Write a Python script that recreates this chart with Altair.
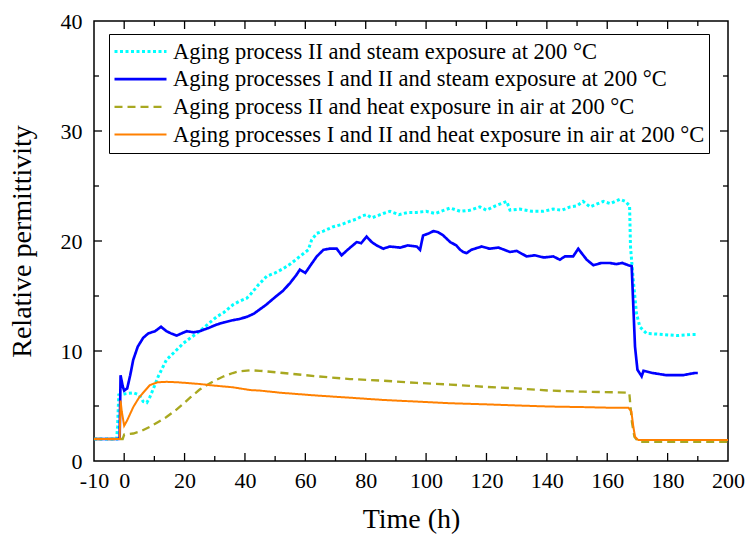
import altair as alt
import pandas as pd

names = [
    "Aging process II and steam exposure at 200 °C",
    "Aging processes I and II and steam exposure at 200 °C",
    "Aging process II and heat exposure in air at 200 °C",
    "Aging processes I and II and heat exposure in air at 200 °C",
]
colors = ["#00FFFF", "#0000FF", "#A8A820", "#FF8000"]
dashes = [[3, 2.5], [1, 0], [8, 5], [1, 0]]
widths = [3, 2, 2.3, 2.5]

steam_II = [
    (-10, 2.0), (-2.5, 2.0), (-2.2, 3.1), (-1.8, 6.0), (0, 6.1), (3, 6.2), (5, 6.0),
    (6.3, 5.4), (7.5, 5.3), (8.5, 5.8), (10, 6.8), (11.3, 7.7), (14, 9.2), (17, 10.0),
    (19.6, 10.7), (22, 11.2), (25, 11.8), (28, 12.5), (30.6, 13.1), (33, 13.5), (36, 14.2),
    (38, 14.5), (40.6, 14.8), (42, 15.2), (44.4, 16.0), (47.2, 16.8), (50, 17.1),
    (52.7, 17.5), (55, 17.9), (58.2, 18.6), (61, 19.2), (62.1, 20.1), (63.8, 20.7),
    (66, 20.9), (69.3, 21.3), (72, 21.5), (74.8, 21.8), (77, 22.0), (79, 22.3), (80.3, 22.4),
    (82, 22.1), (85.8, 22.5), (88, 22.7), (91, 22.4), (94, 22.6), (96.9, 22.6), (100, 22.7),
    (103, 22.5), (106, 22.8), (108, 23.0), (111.3, 22.7), (114.5, 22.8), (117.8, 23.1),
    (120, 22.8), (123, 23.2), (126.7, 23.6), (127.8, 22.8), (131, 22.9), (135, 22.7),
    (138.8, 22.7), (142, 22.9), (145, 22.8), (147.7, 23.1), (150, 23.2), (152, 23.6),
    (154.3, 23.1), (156, 23.3), (158.7, 23.6), (161, 23.4), (164.2, 23.8), (166, 23.6),
    (167.4, 23.2), (167.7, 19.5), (168.6, 16.5), (169.7, 13.4), (170.8, 12.2), (173, 11.6),
    (178.6, 11.5), (183, 11.4), (188, 11.5), (190, 11.5),
]

steam_I_II = [
    (-10, 2.0), (-1.8, 2.0), (-1.5, 2.2), (-1.2, 7.8), (-0.5, 6.8), (0, 6.4), (1, 6.6),
    (2, 7.8), (3, 9.2), (4.5, 10.4), (6.3, 11.2), (8, 11.6), (10.2, 11.8), (12.2, 12.2),
    (14, 11.8), (15.5, 11.6), (17.4, 11.4), (19, 11.6), (20.7, 11.8), (23, 11.7), (25, 11.8),
    (28, 12.1), (30.6, 12.4), (33, 12.6), (36, 12.8), (38, 12.9), (40.6, 13.1), (43, 13.4),
    (45, 13.8), (47, 14.2), (50, 14.9), (52.7, 15.5), (55, 16.2), (57, 16.9), (58.2, 17.4),
    (60, 17.1), (62, 17.9), (63.8, 18.6), (66, 19.2), (68, 19.3), (70.4, 19.3), (72, 18.7),
    (74, 19.2), (77, 19.9), (78.5, 19.8), (80.3, 20.4), (82, 19.9), (83.6, 19.6),
    (85.8, 19.3), (88, 19.5), (91.4, 19.4), (94, 19.6), (96.9, 19.5), (98, 19.2), (99, 20.5),
    (101, 20.7), (102.4, 20.9), (104, 20.8), (105.7, 20.5), (108, 19.9), (110, 19.6),
    (111.3, 19.2), (112.3, 19.0), (113.4, 18.9), (115, 19.2), (118.4, 19.5), (121, 19.3),
    (124, 19.4), (127.8, 19.0), (130, 19.1), (133.3, 18.6), (136, 18.7), (139, 18.5),
    (142.1, 18.6), (144.3, 18.3), (146, 18.6), (148.7, 18.6), (150.4, 19.3), (151.5, 18.9),
    (153.2, 18.3), (155.4, 17.8), (158, 18.0), (160.9, 18.0), (163, 17.9), (165, 18.0),
    (167, 17.8), (168.1, 17.7), (168.5, 15.0), (169.2, 10.4), (170, 8.3), (171.4, 7.7),
    (172, 8.2), (175, 8.0), (179.7, 7.8), (185, 7.8), (189, 8.0), (190, 8.0),
]

heat_II = [
    (-10, 2.0), (-0.5, 2.0), (0, 2.4), (3, 2.5), (5.5, 2.7), (8.5, 3.1), (11, 3.5),
    (14, 4.0), (17, 4.6), (19.6, 5.2), (22, 5.8), (25, 6.5), (28, 7.0), (30.7, 7.4),
    (33, 7.7), (36, 8.0), (38, 8.15), (41.7, 8.25), (45, 8.2), (52.7, 8.0), (63.8, 7.7),
    (74.8, 7.45), (85.8, 7.3), (96.9, 7.1), (108, 6.95), (119, 6.75), (130, 6.6),
    (141, 6.4), (152, 6.3), (162, 6.25), (167.3, 6.2), (168.2, 3.5), (169, 2.2),
    (170.3, 1.75), (180, 1.75), (190, 1.75), (200, 1.75),
]

heat_I_II = [
    (-10, 2.0), (-1.5, 2.0), (-1.2, 5.5), (-0.8, 4.5), (0, 3.2), (1, 3.7), (3, 4.9),
    (5, 5.8), (8.5, 6.9), (11, 7.15), (14, 7.2), (18, 7.15), (25, 7.0), (30, 6.85),
    (36, 6.7), (41.7, 6.45), (45, 6.4), (52, 6.2), (63.8, 5.95), (75, 5.75), (85.8, 5.55),
    (97, 5.4), (108, 5.25), (120, 5.15), (130, 5.05), (141, 4.95), (152, 4.9), (160, 4.85),
    (167, 4.85), (168, 4.5), (168.6, 3.2), (169.2, 2.2), (170.3, 1.9), (180, 1.9),
    (190, 1.9), (200, 1.9),
]

x_labels = [-10, 0, 20, 40, 60, 80, 100, 120, 140, 160, 180, 200]
x_major = [0, 20, 40, 60, 80, 100, 120, 140, 160, 180]
x_minor = [10, 30, 50, 70, 90, 110, 130, 150, 170, 190]
y_major = [10, 20, 30]
y_labels = [0, 10, 20, 30, 40]
y_minor = [5, 15, 25, 35]

series = [steam_II, steam_I_II, heat_II, heat_I_II]
rows = []
for name, pts in zip(names, series):
    for t, v in pts:
        rows.append({"t": t, "v": v, "s": name})
df = pd.DataFrame(rows)

W, H = 634, 440
MAJ, MIN = 8, 5
FONT = "Liberation Serif"
xs = alt.Scale(domain=[-10, 200], nice=False, zero=False)
ys = alt.Scale(domain=[0, 40], nice=False, zero=False)

x_axis = alt.Axis(
    values=x_labels, ticks=False, tickSize=0, domain=False, grid=False,
    labelOverlap=False, labelFlush=False, labelPadding=9,
    title="Time (h)", titlePadding=14,
    labelExpr="datum.value == -10 ? '-10\u00a0\u00a0' : '' + datum.value")
y_axis = alt.Axis(
    values=y_labels, ticks=False, tickSize=0, domain=False, grid=False,
    labelOverlap=False, labelFlush=False, labelPadding=12,
    title="Relative permittivity", titlePadding=24)

legend_kw = dict(
    orient="none", legendX=15, legendY=13, title=None, symbolType="stroke",
    symbolSize=2704, symbolStrokeWidth=2.5, labelFont=FONT, labelFontSize=22.5,
    labelColor="black", labelOffset=5, padding=4, strokeColor="black",
    fillColor="white", clipHeight=27, rowPadding=0.7, labelLimit=700,
)

main = alt.Chart(df).mark_line(clip=True).encode(
    x=alt.X("t:Q", scale=xs, axis=x_axis),
    y=alt.Y("v:Q", scale=ys, axis=y_axis),
    color=alt.Color("s:N", scale=alt.Scale(domain=names, range=colors),
                    legend=alt.Legend(**legend_kw)),
    strokeDash=alt.StrokeDash("s:N", scale=alt.Scale(domain=names, range=dashes),
                              legend=alt.Legend(**legend_kw)),
    strokeWidth=alt.StrokeWidth("s:N", scale=alt.Scale(domain=names, range=widths),
                                legend=None),
)


def xticks(vals, size):
    d = alt.Chart(pd.DataFrame({"t": vals}))
    x = alt.X("t:Q", scale=xs, axis=x_axis)
    bottom = d.mark_tick(color="black", thickness=1.3, size=size,
                         orient="vertical", opacity=1).encode(
        x=x, y=alt.value(H - size / 2))
    top = d.mark_tick(color="black", thickness=1.3, size=size,
                      orient="vertical", opacity=1).encode(
        x=x, y=alt.value(size / 2))
    return [bottom, top]


def yticks(vals, size):
    d = alt.Chart(pd.DataFrame({"v": vals}))
    y = alt.Y("v:Q", scale=ys, axis=y_axis)
    left = d.mark_tick(color="black", thickness=1.3, size=size,
                       orient="horizontal", opacity=1).encode(
        y=y, x=alt.value(size / 2))
    right = d.mark_tick(color="black", thickness=1.3, size=size,
                        orient="horizontal", opacity=1).encode(
        y=y, x=alt.value(W - size / 2))
    return [left, right]


tick_layers = (xticks(x_major, MAJ) + xticks(x_minor, MIN)
               + yticks(y_major, MAJ) + yticks(y_minor, MIN))

chart = alt.layer(main, *tick_layers).properties(
    width=W, height=H,
    autosize=alt.AutoSizeParams(type="none"),
    padding={"left": 94, "top": 21, "right": 17, "bottom": 81},
    background="white",
).configure_axis(
    labelFont=FONT, titleFont=FONT, labelFontSize=22, titleFontSize=28,
    titleFontWeight="normal", labelColor="black", titleColor="black",
).configure_view(stroke="black", strokeWidth=1.5)

chart.save("out.html", embed_options={"renderer": "svg", "actions": False})
